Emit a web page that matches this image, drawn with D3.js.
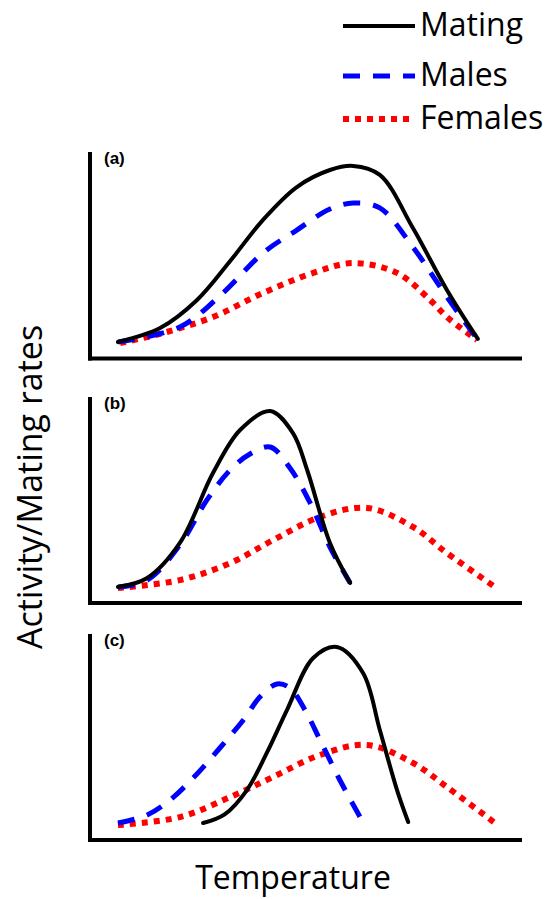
<!DOCTYPE html>
<html>
<head>
<meta charset="utf-8">
<script src="https://cdn.jsdelivr.net/npm/d3@7"></script>
<style>
  body { margin: 0; background: #fff; }
  text { font-family: "Open Sans", sans-serif; }
</style>
</head>
<body>
<script>
// schematic values: temperature 0..100, rate 0..100
var panelLabels = ["(a)", "(b)", "(c)"];
var seriesNames = ["Mating", "Males", "Females"];

var aMatingT = [6.5, 16.3, 24.9, 32.6, 40.2, 48.1, 55.8, 61.2, 67.4, 75.1, 83.0, 90.2];
var aMatingV = [7.8, 14.6, 28.3, 47.3, 67.3, 83.4, 91.7, 93.7, 89.3, 63.4, 33.2, 9.3];
var aMalesT = [6.5, 20.9, 30.9, 40.2, 48.1, 55.8, 61.2, 67.4, 75.1, 83.0, 90.2];
var aMalesV = [7.8, 15.1, 31.7, 51.2, 62.4, 72.7, 75.6, 73.2, 54.1, 29.8, 8.8];
var aFemalesT = [7.0, 17.0, 28.6, 40.2, 51.9, 61.2, 71.4, 79.1, 83.0, 90.0];
var aFemalesV = [7.3, 12.2, 20.0, 31.7, 41.5, 46.3, 41.5, 28.3, 20.0, 8.8];

var bMatingT = [6.5, 13.3, 20.9, 28.6, 34.9, 41.9, 47.2, 50.5, 55.8, 60.5];
var bMatingV = [7.3, 11.7, 28.8, 62.9, 83.9, 93.2, 82.4, 64.4, 28.8, 9.3];
var bMalesT = [6.5, 13.3, 20.9, 27.2, 32.6, 37.2, 41.9, 46.5, 51.2, 55.8, 60.5];
var bMalesV = [7.3, 10.7, 27.8, 49.8, 64.4, 72.2, 75.6, 65.4, 48.3, 26.8, 9.3];
var bFemalesT = [6.5, 20.9, 32.6, 42.6, 53.5, 64.4, 75.1, 83.0, 94.2];
var bFemalesV = [6.8, 10.7, 19.0, 30.2, 41.5, 45.9, 36.6, 23.9, 7.3];

var cMatingT = [26.3, 31.4, 36.5, 41.2, 45.8, 51.9, 57.4, 63.5, 67.4, 71.4, 74];
var cMatingV = [7.3, 11.7, 23.4, 41.9, 62.4, 87.8, 93.2, 80.5, 52.7, 23.4, 7.8];
var cMalesT = [6.5, 13.3, 18.6, 24.0, 30.2, 36.0, 39.5, 43.5, 46.5, 50.0, 53.5, 58.1, 62.8];
var cMalesV = [7.3, 11.2, 18.5, 29.3, 43.9, 58.5, 68.8, 75.1, 73.2, 62.4, 47.8, 28.3, 10.2];
var cFemalesT = [6.5, 20.9, 32.6, 42.6, 53.5, 64.4, 75.1, 83.0, 94.2];
var cFemalesV = [6.3, 10.2, 20.0, 29.8, 40.5, 45.4, 36.6, 24.9, 7.3];

var panelData = [
  [[aMatingT, aMatingV], [aMalesT, aMalesV], [aFemalesT, aFemalesV]],
  [[bMatingT, bMatingV], [bMalesT, bMalesV], [bFemalesT, bFemalesV]],
  [[cMatingT, cMatingV], [cMalesT, cMalesV], [cFemalesT, cFemalesV]]
];

var width = 554, height = 899;
var svg = d3.select("body").append("svg")
  .attr("width", width).attr("height", height);

var styles = [
  { color: "#000", w: 4, dash: null, cap: "round" },
  { color: "#0000ff", w: 5, dash: "17,13", cap: "butt" },
  { color: "#ff0000", w: 6, dash: "6,6", cap: "butt" }
];

// where each panel sits
var panels = [
  { zero: 358, top: 152, axisY: 358.5 },
  { zero: 602, top: 397, axisY: 603 },
  { zero: 838, top: 634, axisY: 840 }
];

var x = d3.scaleLinear().domain([0, 100]).range([90, 520]);

panels.forEach(function(p, i) {
  var y = d3.scaleLinear().domain([0, 100]).range([p.zero, p.zero - 205]);
  var g = svg.append("g");

  // axes
  g.append("line").attr("x1", 90).attr("x2", 90)
    .attr("y1", p.top).attr("y2", p.axisY + 2)
    .attr("stroke", "#000").attr("stroke-width", 4);
  g.append("line").attr("x1", 88).attr("x2", 522)
    .attr("y1", p.axisY).attr("y2", p.axisY)
    .attr("stroke", "#000").attr("stroke-width", 4);

  g.append("text").attr("x", 104).attr("y", p.top + 12)
    .style("font-family", "'Liberation Sans', Arial, sans-serif")
    .style("font-weight", "bold").style("font-size", "17px")
    .text(panelLabels[i]);

  var line = d3.line()
    .x(function(d) { return x(d[0]); })
    .y(function(d) { return y(d[1]); })
    .curve(d3.curveCatmullRom.alpha(0.5));

  // draw females first, mating on top
  [2, 1, 0].forEach(function(s) {
    var ts = panelData[i][s][0], vs = panelData[i][s][1];
    var pts = ts.map(function(t, k) { return [t, vs[k]]; });
    g.append("path").attr("d", line(pts))
      .attr("fill", "none")
      .attr("stroke", styles[s].color)
      .attr("stroke-width", styles[s].w)
      .attr("stroke-dasharray", styles[s].dash)
      .attr("stroke-linecap", styles[s].cap);
  });
});

// legend
var legY = [26, 76, 119];
seriesNames.forEach(function(name, s) {
  svg.append("line").attr("x1", 343).attr("x2", 415)
    .attr("y1", legY[s]).attr("y2", legY[s])
    .attr("stroke", styles[s].color)
    .attr("stroke-width", styles[s].w)
    .attr("stroke-dasharray", styles[s].dash);
  svg.append("text").attr("x", 420).attr("y", legY[s] + 10)
    .style("font-size", "32px").text(name);
});

// axis titles
svg.append("text")
  .attr("transform", "translate(42,487) rotate(-90)")
  .attr("text-anchor", "middle")
  .style("font-size", "34px")
  .text("Activity/Mating rates");

svg.append("text").attr("x", 293).attr("y", 889)
  .attr("text-anchor", "middle")
  .style("font-size", "32px")
  .text("Temperature");
</script>
</body>
</html>
